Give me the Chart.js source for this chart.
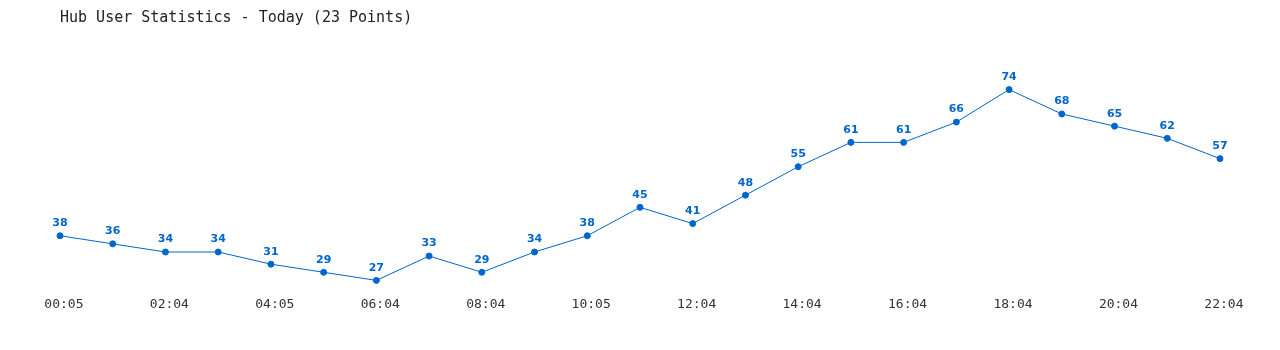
<!DOCTYPE html>
<html>
<head>
<meta charset="utf-8">
<script src="https://cdn.jsdelivr.net/npm/chart.js@4"></script>
<style>
  body { margin: 0; background: #fff; }
  #wrap { width: 1280px; height: 350px; }
</style>
</head>
<body>
<div id="wrap"><canvas id="myChart"></canvas></div>
<script>
const timeLabels = ['00:05', '01:04', '02:04', '03:04', '04:05', '05:04', '06:04', '07:04', '08:04', '09:04', '10:05', '11:04',
  '12:04', '13:04', '14:04', '15:04', '16:04', '17:04', '18:04', '19:04', '20:04', '21:04', '22:04'];
const userCounts = [38, 36, 34, 34, 31, 29, 27, 33, 29, 34, 38, 45, 41, 48, 55, 61, 61, 66, 74, 68, 65, 62, 57];

const blue = '#0066cc';

// draws the value above each point
const valueLabels = {
  id: 'valueLabels',
  afterDatasetsDraw(chart) {
    const ctx = chart.ctx;
    const meta = chart.getDatasetMeta(0);
    ctx.save();
    ctx.font = 'bold 11px "DejaVu Sans"';
    ctx.fillStyle = blue;
    ctx.textAlign = 'center';
    ctx.textBaseline = 'bottom';
    meta.data.forEach((pt, i) => {
      ctx.fillText(userCounts[i], pt.x, pt.y - 7);
    });
    ctx.restore();
  }
};

const ctx = document.getElementById('myChart').getContext('2d');
new Chart(ctx, {
  type: 'line',
  data: {
    labels: timeLabels,
    datasets: [{
      data: userCounts,
      borderColor: blue,
      backgroundColor: blue,
      borderWidth: 1,
      pointRadius: 3,
      pointHoverRadius: 3,
      tension: 0,
      clip: false
    }]
  },
  options: {
    responsive: true,
    maintainAspectRatio: false,
    animation: false,
    layout: { padding: { left: 60, right: 60, top: 0, bottom: 30 } },
    plugins: {
      legend: { display: false },
      tooltip: { enabled: false },
      title: {
        display: true,
        text: 'Hub User Statistics - Today (23 Points)',
        align: 'start',
        color: '#222',
        font: { family: '"DejaVu Sans Mono"', size: 15, weight: 'normal' },
        padding: { top: 9, bottom: 20 }
      }
    },
    scales: {
      x: {
        offset: false,
        grid: { display: false },
        border: { display: false },
        ticks: {
          autoSkip: false,
          maxRotation: 0,
          color: '#333',
          font: { family: '"DejaVu Sans Mono"', size: 13 },
          padding: 8,
          callback: function (val, i) { return i % 2 === 0 ? ' ' + timeLabels[i] : ''; }
        }
      },
      y: {
        display: false,
        min: 27,
        max: 84.5
      }
    }
  },
  plugins: [valueLabels]
});
</script>
</body>
</html>
